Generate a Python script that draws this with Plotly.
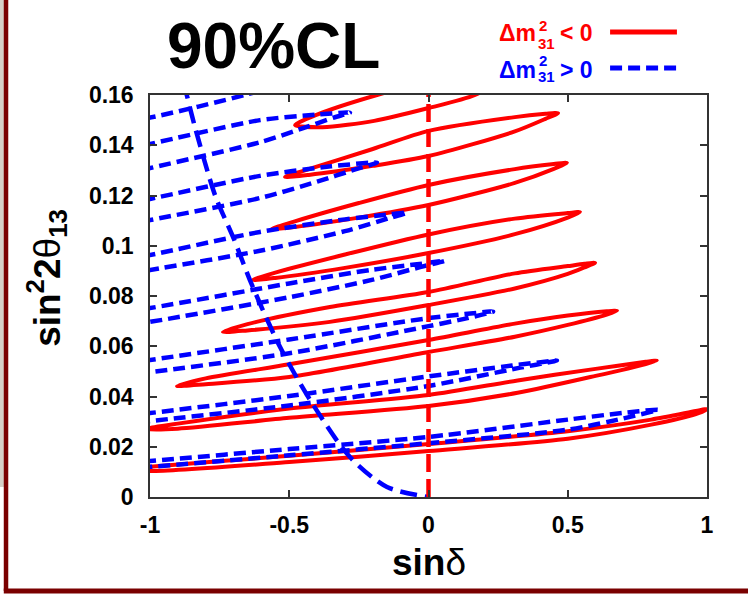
import plotly.graph_objects as go

# ---------------------------------------------------------------------------
# 90% CL iso-probability contours in the (sin(delta), sin^2 2theta13) plane.
# Each contour is a closed, very thin loop.
# ---------------------------------------------------------------------------

# Inverted hierarchy (dm^2_31 < 0): closed contours, solid red
ih_sin_delta = [
    [0.0, 0.5, 0.8, 0.96, 1.0, 0.96, 0.8, 0.5, 0.0, -0.5, -1.0, -1.08, -1.0, -0.5, 0.0],
    [0.0, 0.32, 0.6, 0.78, 0.82, 0.78, 0.6, 0.32, 0.0, -0.5, -0.9, -1.02, -0.9, -0.5, 0.0],
    [0.0, 0.31, 0.5, 0.64, 0.677, 0.64, 0.5, 0.31, 0.0, -0.5, -0.8, -0.903, -0.8, -0.5, 0.0],
    [0.0, 0.31, 0.5, 0.56, 0.598, 0.56, 0.5, 0.31, 0.0, -0.354, -0.65, -0.738, -0.65, -0.354, 0.0],
    [0.0, 0.31, 0.5, 0.544, 0.5, 0.31, 0.0, -0.3, -0.55, -0.63, -0.55, -0.3, 0.0],
    [0.0, 0.31, 0.45, 0.497, 0.45, 0.31, 0.0, -0.25, -0.48, -0.562, -0.48, -0.25, 0.0],
    [0.0, 0.31, 0.42, 0.465, 0.42, 0.31, 0.0, -0.2, -0.43, -0.515, -0.43, -0.2, 0.0],
    [0.0, 0.167, 0.35, 0.43, 0.35, 0.1, -0.185, -0.40, -0.479, -0.38, -0.195, 0.0],
]
ih_s22t13 = [
    [0.0211, 0.0262, 0.0308, 0.0342, 0.0350, 0.0330, 0.0288, 0.0232, 0.0183, 0.0139, 0.0103, 0.0110, 0.0120, 0.0164, 0.0211],
    [0.0406, 0.0464, 0.0510, 0.0538, 0.0543, 0.0529, 0.0482, 0.0415, 0.0362, 0.0315, 0.0272, 0.0270, 0.0292, 0.0352, 0.0406],
    [0.0625, 0.0690, 0.0722, 0.0739, 0.0741, 0.0726, 0.0685, 0.0638, 0.0577, 0.0478, 0.0449, 0.0442, 0.0472, 0.0528, 0.0625],
    [0.0816, 0.0890, 0.0919, 0.0928, 0.0932, 0.0914, 0.0888, 0.0830, 0.0764, 0.0697, 0.0663, 0.0657, 0.0688, 0.0756, 0.0816],
    [0.1045, 0.1108, 0.1130, 0.1134, 0.1112, 0.1046, 0.0971, 0.0912, 0.0872, 0.0864, 0.0893, 0.0965, 0.1045],
    [0.1242, 0.1305, 0.1325, 0.1330, 0.1306, 0.1250, 0.1162, 0.1112, 0.1075, 0.1067, 0.1097, 0.1170, 0.1242],
    [0.1457, 0.1512, 0.1525, 0.1528, 0.1505, 0.1455, 0.1357, 0.1318, 0.1282, 0.1274, 0.1305, 0.1385, 0.1457],
    [0.1548, 0.1600, 0.1715, 0.1748, 0.1738, 0.1680, 0.1600, 0.1522, 0.1480, 0.1472, 0.1497, 0.1548],
]

# Normal hierarchy (dm^2_31 > 0): contours opening past sin(delta) = -1, dotted blue
nh_sin_delta = [
    [-1.15, -1.0, -0.5, 0.0, 0.5, 0.7, 0.824, 0.72, 0.5, 0.0, -0.5, -1.0, -1.15],
    [-1.15, -1.0, -0.5, 0.0, 0.3, 0.461, 0.33, 0.0, -0.5, -1.0, -1.15],
    [-1.15, -1.0, -0.5, 0.0, 0.13, 0.232, 0.14, 0.0, -0.5, -1.0, -1.15],
    [-1.15, -1.0, -0.5, -0.2, -0.05, 0.059, -0.03, -0.2, -0.5, -1.0, -1.15],
    [-1.15, -1.0, -0.605, -0.3, -0.15, -0.077, -0.14, -0.3, -0.605, -1.0, -1.15],
    [-1.15, -1.0, -0.605, -0.35, -0.185, -0.26, -0.4, -0.605, -1.0, -1.15],
    [-1.15, -1.0, -0.605, -0.40, -0.282, -0.34, -0.45, -0.605, -1.0, -1.15],
    [-1.15, -1.0, -0.66, -0.45, -0.37, -0.5, -1.0, -1.15],
]
nh_s22t13 = [
    [0.0130, 0.0143, 0.0191, 0.0239, 0.0308, 0.0335, 0.0347, 0.0318, 0.0268, 0.0214, 0.0166, 0.0120, 0.0107],
    [0.0314, 0.0334, 0.0402, 0.0480, 0.0523, 0.0543, 0.0515, 0.0442, 0.0364, 0.0302, 0.0282],
    [0.0520, 0.0545, 0.0627, 0.0712, 0.0728, 0.0738, 0.0712, 0.0680, 0.0572, 0.0497, 0.0477],
    [0.0727, 0.0752, 0.0850, 0.0905, 0.0925, 0.0940, 0.0915, 0.0865, 0.0795, 0.0697, 0.0672],
    [0.0930, 0.0963, 0.1055, 0.1105, 0.1124, 0.1132, 0.1110, 0.1058, 0.0980, 0.0903, 0.0873],
    [0.1150, 0.1186, 0.1278, 0.1316, 0.1331, 0.1305, 0.1255, 0.1190, 0.1102, 0.1068],
    [0.1368, 0.1405, 0.1500, 0.1522, 0.1530, 0.1510, 0.1468, 0.1412, 0.1309, 0.1270],
    [0.1485, 0.1510, 0.1600, 0.1668, 0.1722, 0.1712, 0.1640, 0.1620],
]

# Long-dashed blue boundary curve
bound_sin_delta = [-0.88, -0.868, -0.838, -0.766, -0.70, -0.634, -0.533, -0.425, -0.282, -0.149, 0.0]
bound_s22t13 = [0.165, 0.160, 0.147, 0.120, 0.103, 0.0844, 0.0597, 0.0386, 0.0159, 0.0040, 0.0]

# Red dashed line at sin(delta) = 0
zero_sin_delta = [0.0, 0.0]
zero_s22t13 = [0.0, 0.16]

x_ticks = [-1, -0.5, 0, 0.5, 1]
x_tick_labels = ["-1", "-0.5", "0", "0.5", "1"]
y_ticks = [0, 0.02, 0.04, 0.06, 0.08, 0.1, 0.12, 0.14, 0.16]
y_tick_labels = ["0", "0.02", "0.04", "0.06", "0.08", "0.1", "0.12", "0.14", "0.16"]

RED = "#ff0000"
BLUE = "#0000ff"
FONT = "Liberation Sans, Arial, sans-serif"

fig = go.Figure()

for xs, ys in zip(ih_sin_delta, ih_s22t13):
    fig.add_trace(go.Scatter(
        x=xs, y=ys, mode="lines", showlegend=False, hoverinfo="skip",
        line=dict(color=RED, width=4, shape="spline", smoothing=0.75),
    ))

for xs, ys in zip(nh_sin_delta, nh_s22t13):
    fig.add_trace(go.Scatter(
        x=xs, y=ys, mode="lines", showlegend=False, hoverinfo="skip",
        line=dict(color=BLUE, width=4.5, dash="12px,6px", shape="spline", smoothing=0.75),
    ))

fig.add_trace(go.Scatter(
    x=bound_sin_delta, y=bound_s22t13, mode="lines", showlegend=False, hoverinfo="skip",
    line=dict(color=BLUE, width=4.5, dash="17px,8px", shape="spline", smoothing=0.8),
))

fig.add_trace(go.Scatter(
    x=zero_sin_delta, y=zero_s22t13, mode="lines", showlegend=False, hoverinfo="skip",
    line=dict(color=RED, width=4.5, dash="18px,7px"),
))

axis_common = dict(
    showgrid=False, zeroline=False, showline=True, linecolor="#333", linewidth=1.5,
    mirror="ticks", ticks="inside", ticklen=7, tickwidth=1.5, tickcolor="#333",
    tickfont=dict(family=FONT, size=23, color="black", weight="bold"),
)
fig.update_xaxes(range=[-1, 1], tickvals=x_ticks, ticktext=x_tick_labels,
                 ticklabelstandoff=7, **axis_common)
fig.update_yaxes(range=[0, 0.16], tickvals=y_ticks, ticktext=y_tick_labels,
                 ticklabelstandoff=10, **axis_common)

annotations = [
    # headline
    dict(text="<b>90%CL</b>", x=0.2226, y=1.122, xref="paper", yref="paper",
         xanchor="center", yanchor="middle", showarrow=False,
         font=dict(family=FONT, size=64, color="black")),
    # axis titles
    dict(text="<b>sin</b>δ", x=0.5009, y=-0.162, xref="paper", yref="paper",
         xanchor="center", yanchor="middle", showarrow=False,
         font=dict(family=FONT, size=37, color="black")),
    dict(text="<b>sin<sup>2</sup>2</b>θ<sub><b>13</b></sub>", x=-0.185, y=0.545,
         xref="paper", yref="paper", xanchor="center", yanchor="middle",
         textangle=-90, showarrow=False,
         font=dict(family=FONT, size=37, color="black")),
]

# legend entries: "Δm" with stacked 2 / 31, then the sign
legend_rows = [("< 0", RED, 1.154, 1.172, 1.129), ("> 0", BLUE, 1.062, 1.087, 1.045)]
for sign, col, yc, ysup, ysub in legend_rows:
    annotations += [
        dict(text="<b>Δm</b>", x=0.623, y=yc, xref="paper", yref="paper",
             xanchor="left", yanchor="middle", showarrow=False,
             font=dict(family=FONT, size=23, color=col)),
        dict(text="<b>2</b>", x=0.695, y=ysup, xref="paper", yref="paper",
             xanchor="left", yanchor="middle", showarrow=False,
             font=dict(family=FONT, size=15, color=col)),
        dict(text="<b>31</b>", x=0.693, y=ysub, xref="paper", yref="paper",
             xanchor="left", yanchor="middle", showarrow=False,
             font=dict(family=FONT, size=15, color=col)),
        dict(text="<b>" + sign + "</b>", x=0.7325, y=yc, xref="paper", yref="paper",
             xanchor="left", yanchor="middle", showarrow=False,
             font=dict(family=FONT, size=23, color=col)),
    ]

shapes = [
    # legend samples
    dict(type="line", xref="paper", yref="paper", x0=0.826, x1=0.946, y0=1.1567, y1=1.1567,
         line=dict(color=RED, width=5)),
    dict(type="line", xref="paper", yref="paper", x0=0.826, x1=0.946, y0=1.067, y1=1.067,
         line=dict(color=BLUE, width=5, dash="12px,6px")),
    # slide frame
    dict(type="rect", xref="paper", yref="paper", x0=-0.2693, x1=-0.2621, y0=0.025, y1=1.24,
         line=dict(width=0), fillcolor="#d6cfc7", layer="below"),
    dict(type="line", xref="paper", yref="paper", x0=-0.2585, x1=-0.2585, y0=1.24, y1=-0.2338,
         line=dict(color="#7a0000", width=4.5)),
    dict(type="line", xref="paper", yref="paper", x0=-0.2625, x1=1.08, y0=-0.2338, y1=-0.2338,
         line=dict(color="#7a0000", width=5)),
]

fig.update_layout(
    width=748, height=594,
    margin=dict(l=150, r=41, t=95, b=97),
    paper_bgcolor="white", plot_bgcolor="white",
    showlegend=False,
    annotations=annotations,
    shapes=shapes,
)

fig.write_html("out.html")
